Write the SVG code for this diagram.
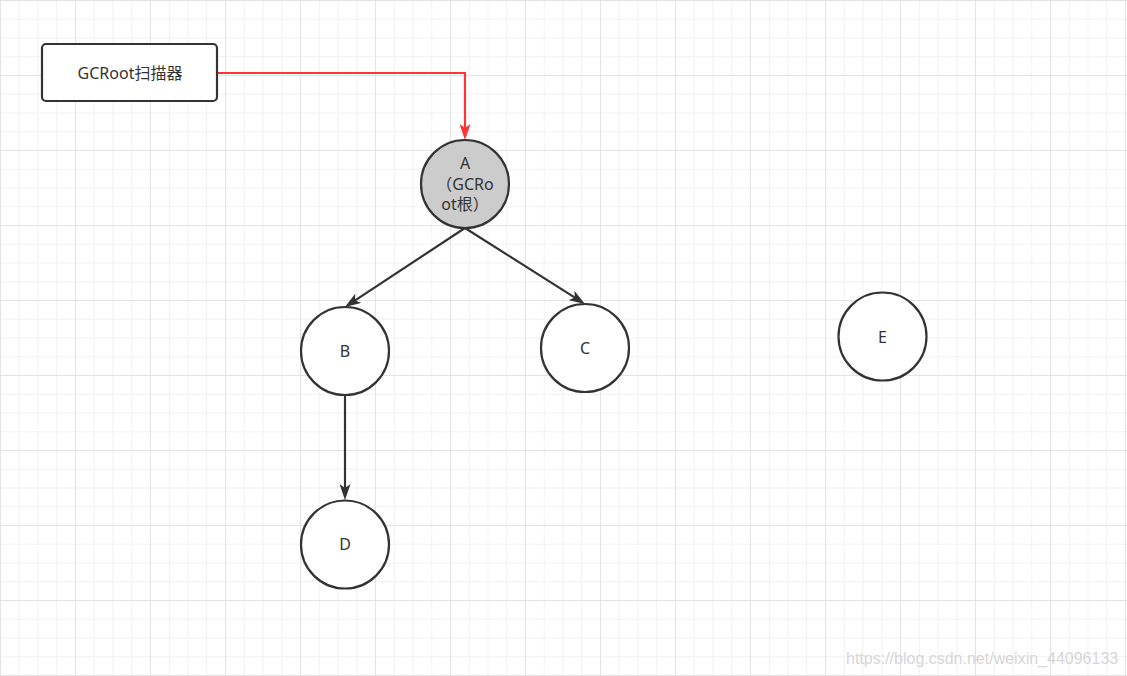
<svg xmlns="http://www.w3.org/2000/svg" width="1127" height="676" viewBox="0 0 1127 676">
<style>
.node{fill:#ffffff;stroke:#333333;stroke-width:2.2}
.root{fill:#cccccc;stroke:#333333;stroke-width:2.2}
.lbl{font-family:"Noto Sans","Noto Sans CJK SC",sans-serif;font-size:16px;fill:#333333;text-anchor:middle}
.edge{fill:none;stroke:#333333;stroke-width:2.2}
.red{fill:none;stroke:#ff3333;stroke-width:2.2}
.minor{stroke:#f2f2f2;stroke-width:1}
.major{stroke:#e3e3e3;stroke-width:1}
</style>
<defs>
<marker id="arr" viewBox="0 0 16 11" refX="12" refY="5.5" markerWidth="16" markerHeight="11" markerUnits="userSpaceOnUse" orient="auto">
<path d="M0,0 L16,5.5 L0,11 L4,5.5 Z" fill="#333333"/>
</marker>
<marker id="arrRed" viewBox="0 0 16 11" refX="12" refY="5.5" markerWidth="16" markerHeight="11" markerUnits="userSpaceOnUse" orient="auto">
<path d="M0,0 L16,5.5 L0,11 L4,5.5 Z" fill="#ff3333"/>
</marker>
<pattern id="grid" x="0" y="0" width="75" height="75" patternUnits="userSpaceOnUse">
<rect width="75" height="75" fill="#ffffff"/>
<path class="minor" d="M19.25,0 V75 M38,0 V75 M56.75,0 V75 M0,19.25 H75 M0,38 H75 M0,56.75 H75"/>
<path class="major" d="M0.5,0 V75 M0,0.5 H75"/>
</pattern>
</defs>
<rect x="0" y="0" width="1127" height="676" fill="url(#grid)"/>
<g id="connectors">
<path class="red" d="M218,73 H465 V136" marker-end="url(#arrRed)"/>
<path class="edge" d="M465,228 L348.3,304.8" marker-end="url(#arr)"/>
<path class="edge" d="M465,228 L581.6,301.9" marker-end="url(#arr)"/>
<path class="edge" d="M345,395 L345,496" marker-end="url(#arr)"/>
</g>
<g id="scanner">
<rect class="node" x="42" y="44" width="175" height="57" rx="4"/>
<text class="lbl" x="130" y="79">GCRoot扫描器</text>
</g>
<g id="nodeA">
<circle class="root" cx="465" cy="184" r="44"/>
<text class="lbl" x="465" y="169">A</text>
<text class="lbl" x="465" y="190">（GCRo</text>
<text class="lbl" x="465" y="210">ot根）</text>
</g>
<g id="nodeB">
<circle class="node" cx="345" cy="351" r="44"/>
<text class="lbl" x="345" y="357">B</text>
</g>
<g id="nodeC">
<circle class="node" cx="585" cy="348" r="44"/>
<text class="lbl" x="585" y="354">C</text>
</g>
<g id="nodeD">
<circle class="node" cx="345" cy="544.5" r="44"/>
<text class="lbl" x="345" y="550">D</text>
</g>
<g id="nodeE">
<circle class="node" cx="882.5" cy="336.5" r="44"/>
<text class="lbl" x="882.5" y="343">E</text>
</g>
<text x="846" y="664" font-family="Liberation Sans, Arial, sans-serif" font-size="16" fill="#d6d6d6">https://blog.csdn.net/weixin_44096133</text>
</svg>
